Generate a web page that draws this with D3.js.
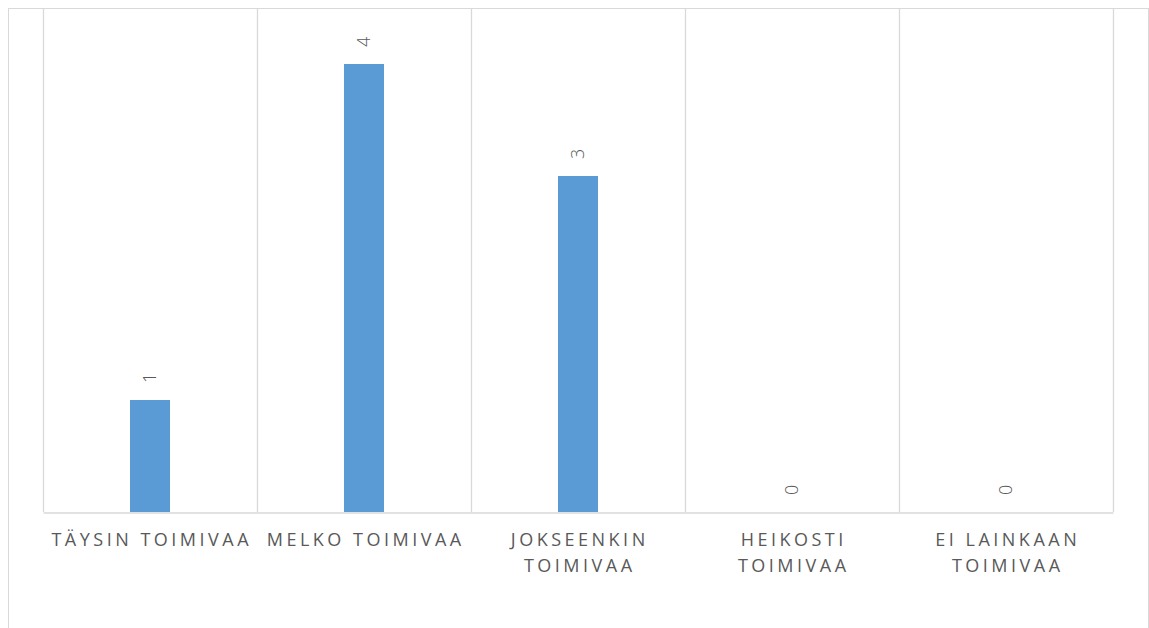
<!DOCTYPE html>
<html>
<head>
<meta charset="utf-8">
<script src="https://cdn.jsdelivr.net/npm/d3@7"></script>
<style>
  html, body { margin: 0; padding: 0; background: #fff; }
  svg { display: block; }
</style>
</head>
<body>
<svg id="chart" width="1149" height="628"></svg>
<script>
const categories = ["TÄYSIN TOIMIVAA", "MELKO TOIMIVAA", "JOKSEENKIN TOIMIVAA", "HEIKOSTI TOIMIVAA", "EI LAINKAAN TOIMIVAA"];
const values = [1, 4, 3, 0, 0];
const yMax = 4.5;

const W = 1149, H = 628;
const plot = { left: 43, right: 1113, top: 8, bottom: 512 };
const gridColor = "#d9d9d9";
const textColor = "#595959";
const barColor = "#5b9bd5";
const font = "'Open Sans', 'Segoe UI', sans-serif";

const svg = d3.select("#chart");

// outer chart border
svg.append("rect")
  .attr("x", 8.5).attr("y", 8.5)
  .attr("width", 1140).attr("height", 700)
  .attr("fill", "none").attr("stroke", gridColor).attr("stroke-width", 1);

const x = d3.scaleBand().domain(categories).range([plot.left, plot.right]).padding(0);
const y = d3.scaleLinear().domain([0, yMax]).range([plot.bottom, plot.top]);

// vertical category separators
const seps = categories.map(c => x(c)).concat([plot.right]);
svg.append("g").selectAll("line").data(seps).join("line")
  .attr("x1", d => Math.round(d) + 0.5).attr("x2", d => Math.round(d) + 0.5)
  .attr("y1", plot.top).attr("y2", plot.bottom)
  .attr("stroke", gridColor).attr("stroke-width", 1.3);

// bars
const barW = 40;
svg.append("g").selectAll("rect").data(values).join("rect")
  .attr("x", (d, i) => x(categories[i]) + x.bandwidth() / 2 - barW / 2)
  .attr("y", d => y(d))
  .attr("width", barW)
  .attr("height", d => y(0) - y(d))
  .attr("fill", barColor);

// baseline axis
const xAxis = d3.axisBottom(x).tickSize(0).tickFormat("");
const axisG = svg.append("g").attr("transform", `translate(0,${plot.bottom + 0.5})`).call(xAxis);
axisG.select(".domain").attr("stroke", gridColor).attr("stroke-width", 1.5);

// data labels (rotated -90)
svg.append("g").selectAll("text").data(values).join("text")
  .attr("transform", (d, i) => `translate(${x(categories[i]) + x.bandwidth() / 2},${y(d) - 17}) rotate(-90)`)
  .attr("dy", "0.35em")
  .attr("text-anchor", "start")
  .attr("font-family", font)
  .attr("font-size", 18)
  .attr("font-weight", 300)
  .attr("fill", textColor)
  .text(d => d);

// category labels with wrapping
const labelG = svg.append("g");
const maxW = x.bandwidth() - 4;
categories.forEach(c => {
  const cx = x(c) + x.bandwidth() / 2;
  const t = labelG.append("text")
    .attr("x", cx).attr("y", 546)
    .attr("text-anchor", "middle")
    .attr("font-family", font)
    .attr("font-size", 18)
    .attr("letter-spacing", "3.5px")
    .attr("fill", textColor);
  const words = c.split(" ");
  let lines = [], cur = [];
  const probe = t.append("tspan");
  words.forEach(w => {
    const test = cur.concat([w]).join(" ");
    probe.text(test);
    if (probe.node().getComputedTextLength() > maxW && cur.length) {
      lines.push(cur.join(" "));
      cur = [w];
    } else {
      cur.push(w);
    }
  });
  lines.push(cur.join(" "));
  probe.remove();
  lines.forEach((ln, i) => {
    t.append("tspan").attr("x", cx + 1.75).attr("dy", i === 0 ? 0 : 26).text(ln);
  });
});
</script>
</body>
</html>
